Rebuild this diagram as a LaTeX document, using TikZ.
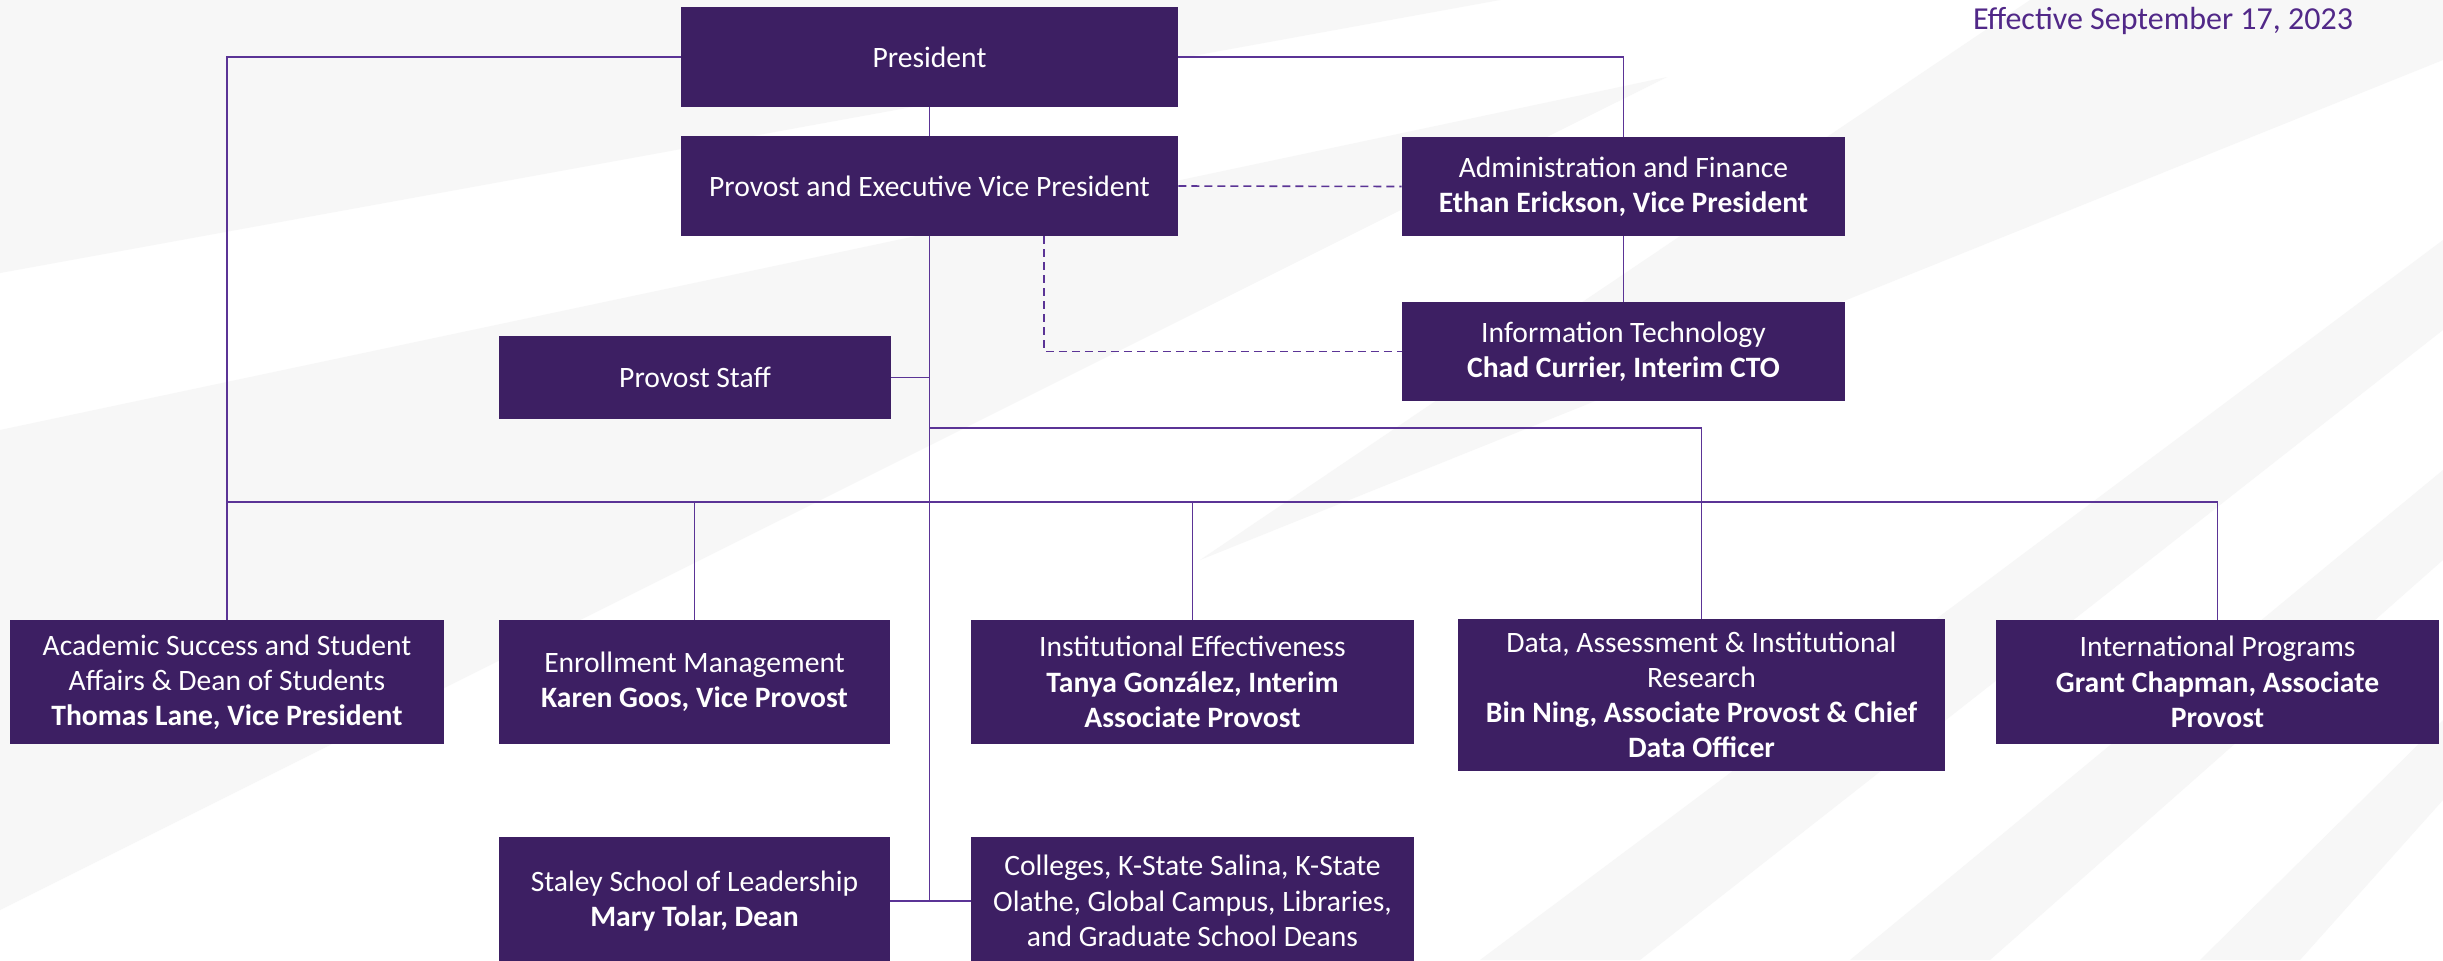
\documentclass[tikz,border=0pt]{standalone}
\usepackage{fontspec}
\setmainfont{Carlito}
\definecolor{boxpurple}{HTML}{3D1F63}
\definecolor{linepurple}{HTML}{5B3496}
\definecolor{datepurple}{HTML}{512888}
\definecolor{stripegray}{HTML}{F7F7F7}
\begin{document}
\begin{tikzpicture}[x=0.5pt, y=-0.5pt,
unit/.style={rectangle, fill=boxpurple, text=white, align=center, inner sep=0pt, font=\fontsize{14.8}{17.6}\selectfont},
topunit/.style={unit, minimum width=248.5pt, minimum height=50pt},
sideunit/.style={unit, minimum width=221.5pt, minimum height=49.5pt},
lowunit/.style={unit, minimum height=62pt},
link/.style={draw=linepurple, line width=0.8pt},
dotlink/.style={draw=linepurple, line width=0.8pt, dash pattern=on 4pt off 2.5pt},
]
\useasboundingbox (0,0) rectangle (2443,960);
\clip (0,0) rectangle (2443,960);
\fill[white] (0,0) rectangle (2443,960);
\fill[stripegray] (0,0) -- (1500,0) -- (0,273) -- cycle;
\fill[stripegray] (0,430) -- (1667,77) -- (0,910) -- cycle;
\fill[stripegray] (2030,0) -- (2443,0) -- (2443,60) -- (1200,560) -- cycle;
\fill[stripegray] (1480,960) -- (2443,240) -- (2443,330) -- (1640,960) -- cycle;
\fill[stripegray] (1850,960) -- (2443,470) -- (2443,560) -- (1990,960) -- cycle;
\fill[stripegray] (2200,960) -- (2443,720) -- (2443,800) -- (2300,960) -- cycle;

\node[datepurple, font=\fontsize{16}{19}\selectfont, anchor=east] (date) at (2360,21) {Effective September 17, 2023};

\node[topunit] (pres) at (929.5,57) {President};
\node[topunit] (prov) at (929.5,186) {Provost and Executive Vice President};
\node[sideunit] (admin) at (1623.5,186.5) {Administration and Finance\\\textbf{Ethan Erickson, Vice President}};
\node[sideunit] (itech) at (1623.5,351.5) {Information Technology\\\textbf{Chad Currier, Interim CTO}};
\node[unit, minimum width=196pt, minimum height=41.5pt] (staff) at (695,377.5) {Provost Staff};

\node[lowunit, minimum width=217pt] (acad) at (227,682) {Academic Success and Student\\Affairs \& Dean of Students\\\textbf{Thomas Lane, Vice President}};
\node[lowunit, minimum width=195.5pt] (enrol) at (694.5,682) {Enrollment Management\\\textbf{Karen Goos, Vice Provost}};
\node[lowunit, minimum width=221.5pt] (inst) at (1192.5,682) {Institutional Effectiveness\\\textbf{Tanya González, Interim}\\\textbf{Associate Provost}};
\node[unit, minimum width=243.5pt, minimum height=76pt] (data) at (1701.5,695) {Data, Assessment \& Institutional\\Research\\\textbf{Bin Ning, Associate Provost \& Chief}\\\textbf{Data Officer}};
\node[lowunit, minimum width=221.5pt] (intl) at (2217.5,682) {International Programs\\\textbf{Grant Chapman, Associate}\\\textbf{Provost}};

\node[unit, minimum width=195.5pt, minimum height=64pt] (staley) at (694.5,901) {Staley School of Leadership\\\textbf{Mary Tolar, Dean}};
\node[unit, minimum width=221.5pt, minimum height=64pt] (coll) at (1192.5,901) {Colleges, K-State Salina, K-State\\Olathe, Global Campus, Libraries,\\and Graduate School Deans};

\coordinate (midbar) at (929.5,428);
\coordinate (lowbar) at (227,502);

\draw[link] (pres.south) -- (prov.north);
\draw[link] (pres.west) -| (acad.north);
\draw[link] (pres.east) -| (admin.north);
\draw[link] (admin.south) -- (itech.north);
\draw[dotlink] (prov.east) -- (admin.west);
\draw[dotlink] ([xshift=57.25pt]prov.south) |- (itech.west);
\draw[link] (prov.south) |- (staley.east);
\draw[link] (staley.east) -- (coll.west);
\draw[link] (staff.east) -- (staff.east -| prov.south);
\draw[link] (midbar) -| (data.north);
\draw[link] (lowbar) -| (intl.north);
\draw[link] (enrol.north) -- (enrol.north |- lowbar);
\draw[link] (inst.north) -- (inst.north |- lowbar);
\end{tikzpicture}
\end{document}
